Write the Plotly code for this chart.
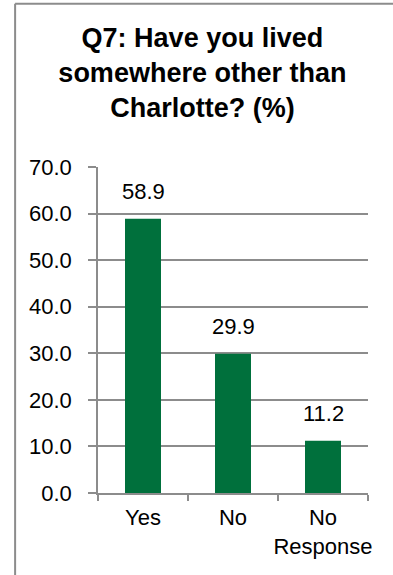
import plotly.graph_objects as go

categories = ["Yes", "No", "No<br>Response"]
values = [58.9, 29.9, 11.2]
value_labels = ["58.9", "29.9", "11.2"]
y_ticks = [0, 10, 20, 30, 40, 50, 60, 70]
y_tick_labels = ["0.0", "10.0", "20.0", "30.0", "40.0", "50.0", "60.0", "70.0"]

FONT = "Liberation Sans, Arial, sans-serif"
GRID = "#8c8c8c"

fig = go.Figure()
fig.add_trace(go.Bar(x=categories, y=values, marker=dict(color="#00703C", line=dict(width=0)),
                     width=0.4, showlegend=False, hoverinfo="skip"))

for c, v, t in zip(categories, values, value_labels):
    fig.add_annotation(x=c, y=v, text=t, showarrow=False, yanchor="bottom", yshift=13,
                       font=dict(family=FONT, size=22, color="#000000"))

fig.update_layout(
    width=393, height=575,
    margin=dict(l=98, r=25, t=166.5, b=82.3),
    paper_bgcolor="white", plot_bgcolor="white",
    title=dict(text="<b>Q7: Have you lived<br>somewhere other than<br>Charlotte? (%)</b>",
               x=0.515, xref="container", xanchor="center", y=0.918, yref="container", yanchor="top",
               font=dict(family=FONT, size=27, color="#000000")),
    xaxis=dict(showgrid=False, showline=True, linecolor=GRID, linewidth=1.5,
               ticks="outside", ticklen=6, tickcolor=GRID, tickwidth=1.5, tickson="boundaries",
               tickangle=0, automargin=False, ticklabelstandoff=4,
               tickfont=dict(family=FONT, size=22, color="#000000"), fixedrange=True),
    yaxis=dict(range=[0, 70], tickvals=y_ticks, ticktext=y_tick_labels,
               showgrid=True, gridcolor=GRID, gridwidth=1.5, zeroline=False,
               showline=True, linecolor=GRID, linewidth=1.5, automargin=False,
               ticks="outside", ticklen=8, tickcolor=GRID, tickwidth=1.5, ticklabelstandoff=12,
               tickfont=dict(family=FONT, size=22, color="#000000"), fixedrange=True),
    shapes=[
        dict(type="line", xref="paper", yref="paper", x0=-0.307, x1=1.2, y0=1.501, y1=1.501,
             line=dict(color="#8c8c8c", width=2)),
        dict(type="line", xref="paper", yref="paper", x0=-0.307, x1=-0.307, y0=1.501, y1=-0.3,
             line=dict(color="#8c8c8c", width=2)),
    ],
)

fig.write_html("out.html")
